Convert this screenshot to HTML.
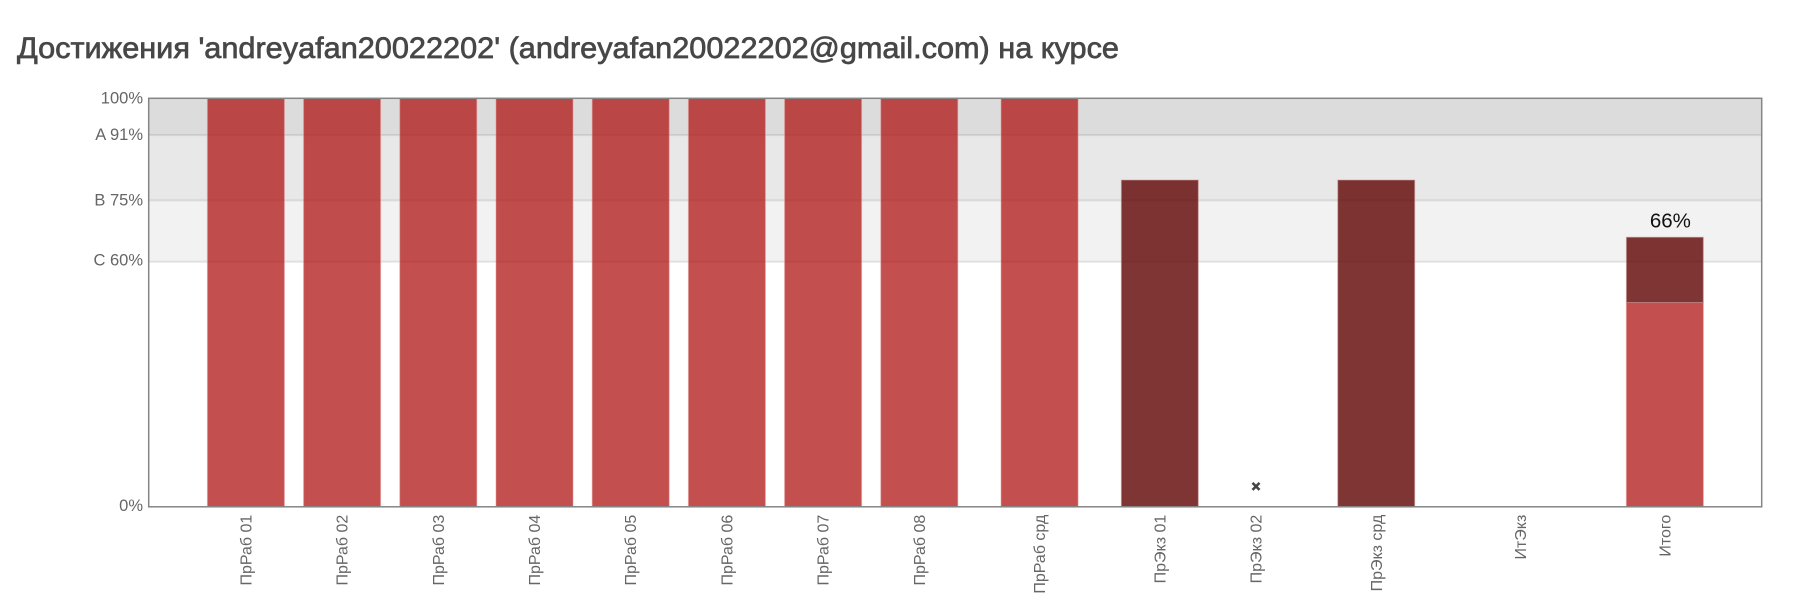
<!DOCTYPE html>
<html lang="ru">
<head>
<meta charset="utf-8">
<title>Достижения</title>
<style>
  html, body { margin: 0; padding: 0; background: #fff; }
  body { width: 1803px; height: 614px; overflow: hidden; }
  svg { display: block; }
  text { font-family: "Liberation Sans", "DejaVu Sans", sans-serif; }
</style>
</head>
<body>
<svg id="chart" width="1803" height="614" viewBox="0 0 1803 614" xmlns="http://www.w3.org/2000/svg">
  <text x="17" y="58" font-size="30" fill="#474747" stroke="#474747" stroke-width="0.7" textLength="1102" lengthAdjust="spacingAndGlyphs">Достижения 'andreyafan20022202' (andreyafan20022202@gmail.com) на курсе</text>
  <g id="bands"></g>
  <g id="bars"></g>
  <g id="markers"></g>
  <g id="value-labels"></g>
  <rect x="148.7" y="98.3" width="1613" height="408.5" fill="none" stroke="#858585" stroke-width="1.5"></rect>
  <g id="y-axis"></g>
  <g id="x-axis"></g>
</svg>
<script>
const categories = ['ПрРаб 01','ПрРаб 02','ПрРаб 03','ПрРаб 04','ПрРаб 05','ПрРаб 06','ПрРаб 07','ПрРаб 08','ПрРаб срд','ПрЭкз 01','ПрЭкз 02','ПрЭкз срд','ИтЭкз','Итого'];
const practiceValues = [100,100,100,100,100,100,100,100,100,0,0,0,0,50];
const examValues = [0,0,0,0,0,0,0,0,0,80,0,80,0,16];
const missingMarkerValues = [null,null,null,null,null,null,null,null,null,null,5,null,null,null];
const printedValues = ['','','','','','','','','','','','','','66%'];
const yTickValues = [100,91,75,60,0];
const yTickLabels = ['100%','A 91%','B 75%','C 60%','0%'];
const gradeBandEdges = [100,91,75,60];

const NS = 'http://www.w3.org/2000/svg';
const bandFills = ['#dcdcdc','#e8e8e8','#f2f2f2'];
const categoryGapUnits = [4,4,4,4,4,4,4,5,5,4,5,6,6];
const yLabelNudge = [5,5,5,4,4];
const PLOT = { left: 148.7, right: 1761.7, top: 98.3, bottom: 506.8 };
const BAR_WIDTH = 77;
const UNIT = 24.05;
const FIRST_CENTER = 245.9;

function yScale(v) {
  return PLOT.bottom - (v / 100) * (PLOT.bottom - PLOT.top);
}
function xScale(i) {
  let units = 0;
  for (let k = 0; k < i; k++) units += categoryGapUnits[k];
  return FIRST_CENTER + units * UNIT;
}
function make(tag, parentId) {
  const el = document.createElementNS(NS, tag);
  document.getElementById(parentId).appendChild(el);
  return el;
}
function drawBar(i, from, to, fill, edge, name) {
  const el = make('rect', 'bars');
  
  
  el.setAttribute('x', xScale(i) - BAR_WIDTH / 2);
  el.setAttribute('width', BAR_WIDTH);
  el.setAttribute('y', yScale(to));
  el.setAttribute('height', yScale(from) - yScale(to));
  el.setAttribute('fill', fill);
  el.setAttribute('stroke', edge);
  el.setAttribute('stroke-width', '1');
}

gradeBandEdges.forEach(function (edge, i) {
  const lower = i + 1 < gradeBandEdges.length ? gradeBandEdges[i + 1] : null;
  if (lower === null) return;
  const band = make('rect', 'bands');
  
  
  band.setAttribute('x', PLOT.left);
  band.setAttribute('width', PLOT.right - PLOT.left);
  band.setAttribute('y', yScale(edge));
  band.setAttribute('height', yScale(lower) - yScale(edge));
  band.setAttribute('fill', bandFills[i]);
});
gradeBandEdges.slice(1).forEach(function (edge) {
  const line = make('line', 'bands');
  
  
  line.setAttribute('x1', PLOT.left);
  line.setAttribute('x2', PLOT.right);
  line.setAttribute('y1', yScale(edge));
  line.setAttribute('y2', yScale(edge));
  line.setAttribute('stroke', 'rgba(0,0,0,0.09)');
  line.setAttribute('stroke-width', '2');
});

categories.forEach(function (cat, i) {
  const base = practiceValues[i];
  if (base > 0) drawBar(i, 0, base, 'rgba(176,20,20,0.75)', 'rgba(225,150,150,0.55)', 'practice-bar');
  const extra = examValues[i];
  if (extra > 0) drawBar(i, base, base + extra, 'rgba(96,2,2,0.8)', 'rgba(205,160,160,0.55)', 'exam-bar');

  const marker = missingMarkerValues[i];
  if (marker !== null) {
    const mx = make('path', 'markers');
    
    
    const cx = xScale(i), cy = yScale(marker);
    mx.setAttribute('d', 'M' + (cx - 3.5) + ' ' + (cy - 3.5) + 'L' + (cx + 3.5) + ' ' + (cy + 3.5) + 'M' + (cx + 3.5) + ' ' + (cy - 3.5) + 'L' + (cx - 3.5) + ' ' + (cy + 3.5));
    mx.setAttribute('stroke', '#444');
    mx.setAttribute('stroke-width', '2.6');
    mx.setAttribute('fill', 'none');
  }

  if (printedValues[i]) {
    const t = make('text', 'value-labels');
    
    
    t.setAttribute('x', xScale(i) + 5.5);
    t.setAttribute('y', yScale(base + extra) - 9.5);
    t.setAttribute('text-anchor', 'middle');
    t.setAttribute('font-size', '20.5');
    t.setAttribute('fill', '#111');
    t.textContent = printedValues[i];
  }

  const label = make('text', 'x-axis');
  
  
  const lx = xScale(i) + 5.5;
  label.setAttribute('transform', 'translate(' + lx + ' 514.7) rotate(-90)');
  label.setAttribute('text-anchor', 'end');
  label.setAttribute('font-size', '16');
  label.setAttribute('fill', '#666');
  label.textContent = cat;
});

yTickValues.forEach(function (v, i) {
  const t = make('text', 'y-axis');
  
  
  t.setAttribute('x', 143);
  t.setAttribute('y', yScale(v) + yLabelNudge[i]);
  t.setAttribute('text-anchor', 'end');
  t.setAttribute('font-size', '16.5');
  t.setAttribute('fill', '#666');
  t.textContent = yTickLabels[i];
});
</script>
</body>
</html>
